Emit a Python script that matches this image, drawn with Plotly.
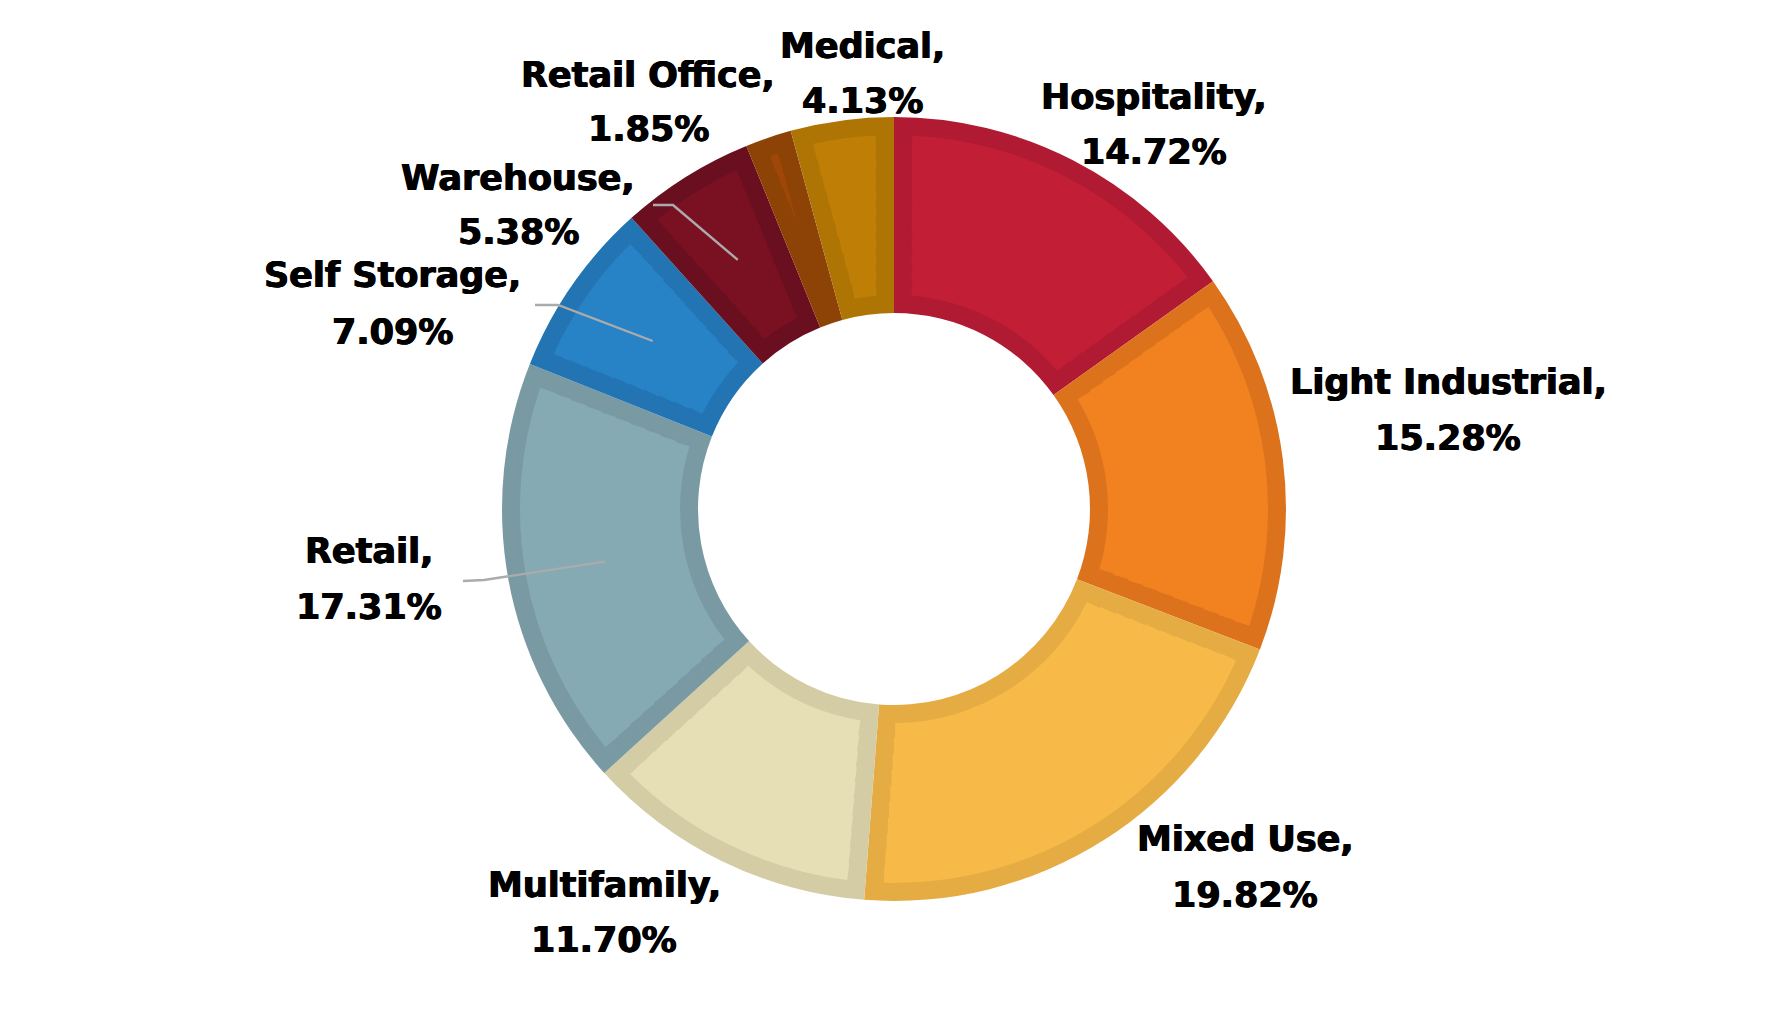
import math
import plotly.graph_objects as go

# ---------------- data ----------------
categories = ["Hospitality", "Light Industrial", "Mixed Use", "Multifamily", "Retail",
              "Self Storage", "Warehouse", "Retail Office", "Medical"]
values = [14.72, 15.28, 19.82, 11.70, 17.31, 7.09, 5.38, 1.85, 4.13]

fill_colors = ["#C21F37", "#F28120", "#F7B947", "#E6DFB5", "#85AAB3",
               "#2882C6", "#7A1122", "#9E4708", "#BF7E06"]
border_colors = ["#B01A33", "#DC731C", "#E4AC42", "#D4CCA4", "#7A9AA3",
                 "#2274B3", "#6A0F1F", "#8E4306", "#AE7404"]

# label layout (pixel positions of the two text lines, page coordinates)
label_pos = {
    "Hospitality": (1154, 97, 152),
    "Light Industrial": (1448, 382, 438),
    "Mixed Use": (1245, 839, 895),
    "Multifamily": (604, 885, 940),
    "Retail": (369, 551, 607),
    "Self Storage": (392, 275, 332),
    "Warehouse": (518, 178, 232),
    "Retail Office": (648, 75, 129),
    "Medical": (862, 46, 101),
}
# leader line: outer end + elbow (page pixels)
leader_ends = {
    "Retail": [(463, 581), (484, 580)],
    "Self Storage": [(535, 305), (558, 305)],
    "Warehouse": [(653, 205), (673, 205)],
}

# ---------------- geometry ----------------
W, H = 1787, 1022
OFF = 8                      # page body margin: figure is drawn at (8, 8)
CX, CY = 894 - OFF, 509 - OFF
R_OUT, R_IN, BORDER = 392, 196, 18
FONT = "DejaVu Sans"
FSIZE = 35
SHADOW = "0.6px 0px 0px #000, -0.6px 0px 0px #000"

def domain_for(r):
    return dict(x=[(CX - r) / W, (CX + r) / W],
                y=[(H - CY - r) / H, (H - CY + r) / H])

total = sum(values)
fig = go.Figure()

# layer 1: border colour donut
fig.add_trace(go.Pie(
    values=values, labels=categories, sort=False, direction="clockwise", rotation=0,
    hole=R_IN / R_OUT, domain=domain_for(R_OUT),
    marker=dict(colors=border_colors, line=dict(width=0)),
    textinfo="none", hoverinfo="skip", showlegend=False,
))

# layer 2: inset fill (split in thin rings so the inset stays uniform)
r_a, r_b = R_IN + BORDER, R_OUT - BORDER
n_rings = 10
for k in range(n_rings):
    r0 = r_a + (r_b - r_a) * k / n_rings
    r1 = r_a + (r_b - r_a) * (k + 1) / n_rings
    rm = (r0 + r1) / 2
    d0 = r0 - (1.2 if k > 0 else 0)          # slight overlap hides seams
    d1 = r1
    gap_deg = 2 * math.degrees(math.asin(BORDER / rm))
    gap_val = gap_deg / 360 * total
    vals, cols, labs = [], [], []
    for i, v in enumerate(values):
        if v > gap_val:
            parts = [gap_val / 2, v - gap_val, gap_val / 2]
        else:
            parts = [v / 2, 0, v / 2]
        vals += parts
        cols += ["rgba(0,0,0,0)", fill_colors[i], "rgba(0,0,0,0)"]
        labs += [f"g{k}_{i}a", categories[i] + f"_{k}", f"g{k}_{i}b"]
    fig.add_trace(go.Pie(
        values=vals, labels=labs, sort=False, direction="clockwise", rotation=0,
        hole=d0 / d1, domain=domain_for(d1),
        marker=dict(colors=cols, line=dict(width=0)),
        textinfo="none", hoverinfo="skip", showlegend=False,
    ))

# hidden pixel-scaled cartesian axes for annotations / leader lines
fig.add_trace(go.Scatter(x=[0, W], y=[0, H], mode="markers",
                         marker=dict(opacity=0), hoverinfo="skip", showlegend=False))

annotations = []
shapes = []
cum = 0.0
for i, (cat, v) in enumerate(zip(categories, values)):
    mid = (cum + v / 2) / total * 2 * math.pi
    cum += v
    x, y1, y2 = label_pos[cat]
    fnt = dict(family=FONT, size=FSIZE, color="#000000", shadow=SHADOW)
    annotations.append(dict(x=x - OFF, y=y1 - OFF, xref="x", yref="y", text=f"<b>{cat},</b>",
                            showarrow=False, xanchor="center", yanchor="middle", font=fnt))
    annotations.append(dict(x=x - OFF, y=y2 - OFF, xref="x", yref="y", text=f"<b>{v:.2f}%</b>",
                            showarrow=False, xanchor="center", yanchor="middle", font=fnt))
    if cat in leader_ends:
        rr = (R_IN + R_OUT) / 2
        sx = CX + rr * math.sin(mid)
        sy = CY - rr * math.cos(mid)
        (ex, ey), (bx, by) = leader_ends[cat]
        shapes.append(dict(type="path", xref="x", yref="y",
                           path=f"M {ex - OFF},{ey - OFF} L {bx - OFF},{by - OFF} L {sx:.1f},{sy:.1f}",
                           line=dict(color="#ABABAB", width=2.4)))

fig.update_layout(
    width=W, height=H, margin=dict(l=0, r=0, t=0, b=0),
    paper_bgcolor="white", plot_bgcolor="rgba(0,0,0,0)",
    xaxis=dict(range=[0, W], visible=False, fixedrange=True, domain=[0, 1]),
    yaxis=dict(range=[H, 0], visible=False, fixedrange=True, domain=[0, 1]),
    annotations=annotations, shapes=shapes, showlegend=False,
)

fig.write_html("out.html")
